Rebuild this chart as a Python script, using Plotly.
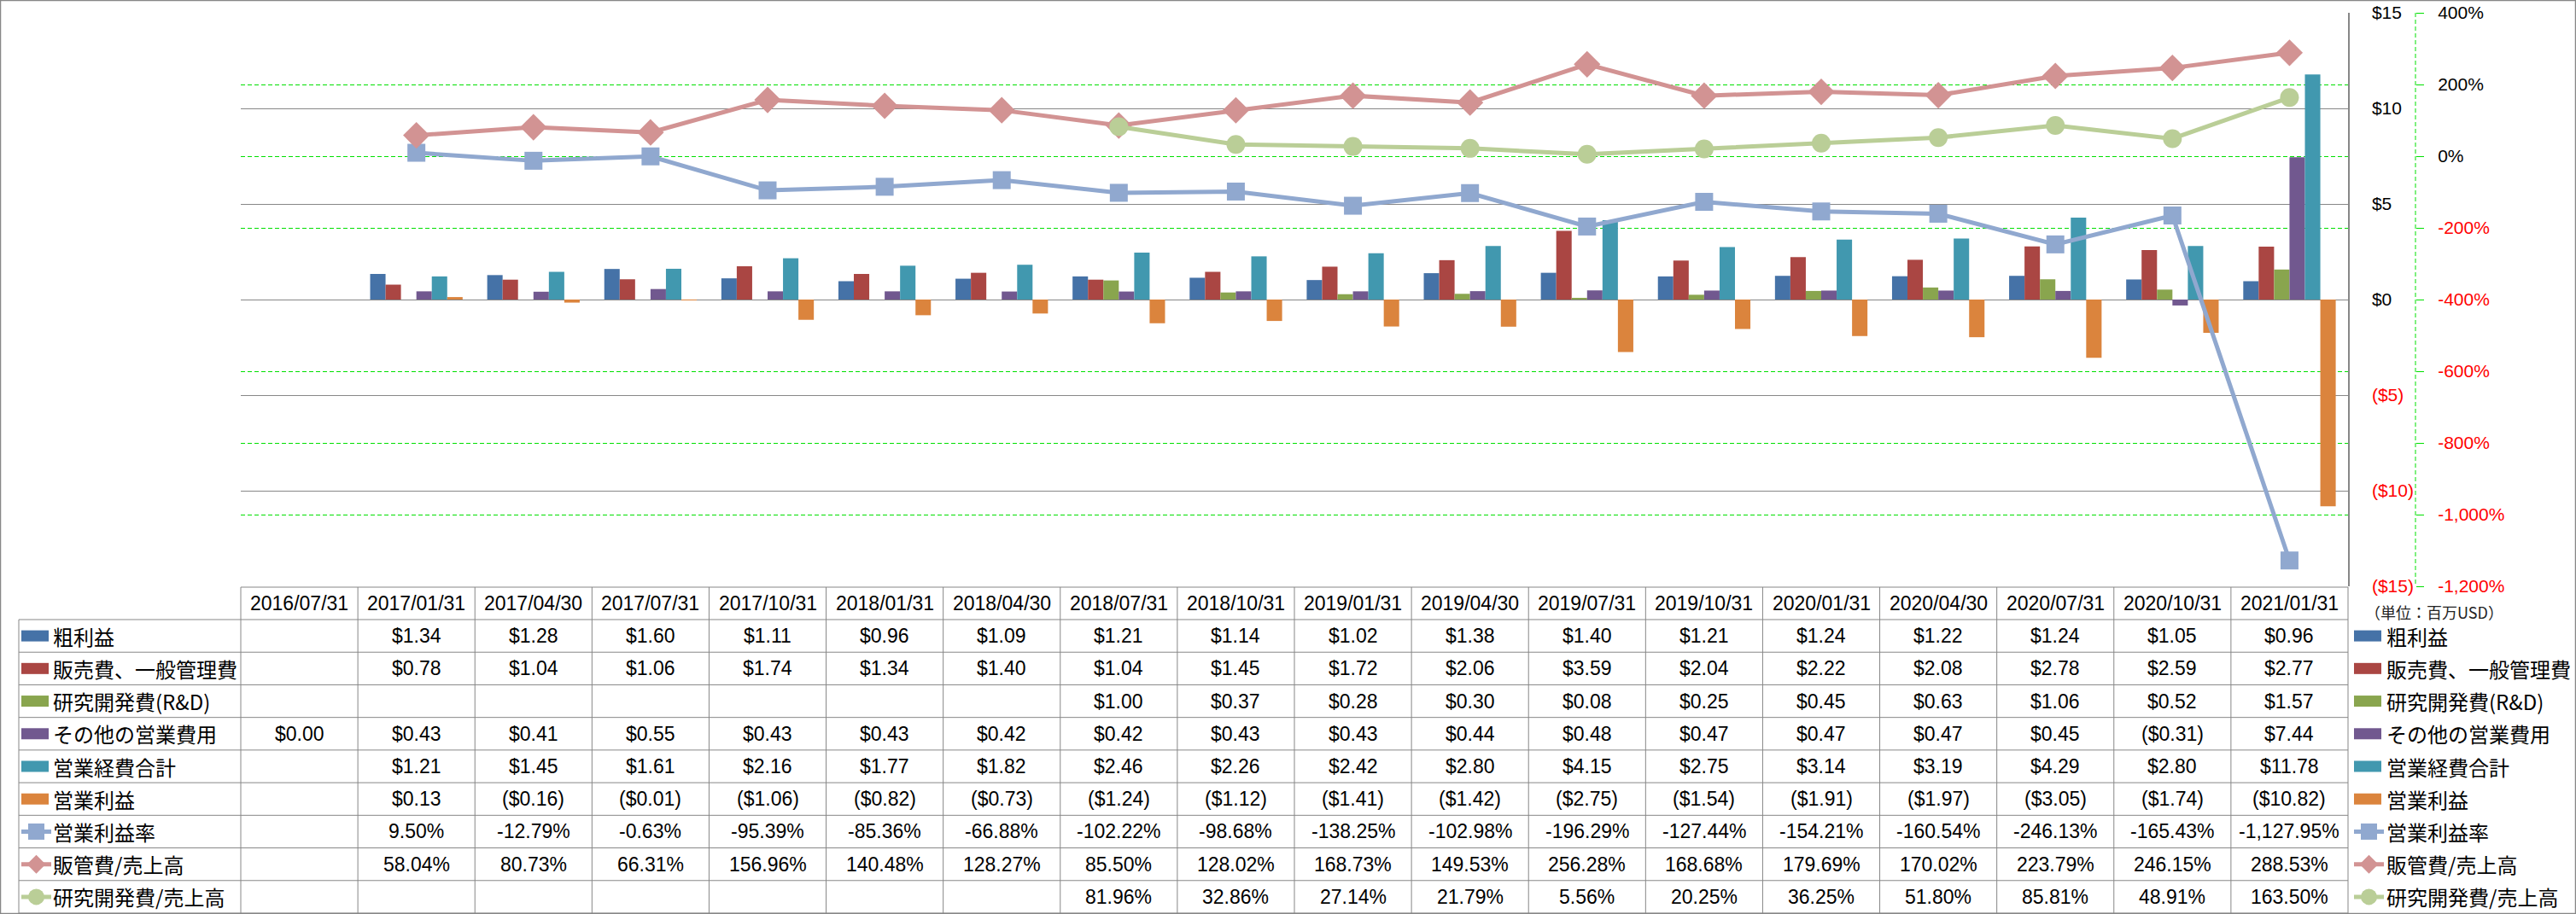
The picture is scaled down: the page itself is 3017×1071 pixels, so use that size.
import plotly.graph_objects as go

# ---------------- data ----------------
categories = ["2016/07/31", "2017/01/31", "2017/04/30", "2017/07/31", "2017/10/31",
              "2018/01/31", "2018/04/30", "2018/07/31", "2018/10/31", "2019/01/31",
              "2019/04/30", "2019/07/31", "2019/10/31", "2020/01/31", "2020/04/30",
              "2020/07/31", "2020/10/31", "2021/01/31"]

gross_profit = [None, 1.34, 1.28, 1.60, 1.11, 0.96, 1.09, 1.21, 1.14, 1.02, 1.38,
                1.40, 1.21, 1.24, 1.22, 1.24, 1.05, 0.96]
sga = [None, 0.78, 1.04, 1.06, 1.74, 1.34, 1.40, 1.04, 1.45, 1.72, 2.06,
       3.59, 2.04, 2.22, 2.08, 2.78, 2.59, 2.77]
rnd = [None, None, None, None, None, None, None, 1.00, 0.37, 0.28, 0.30,
       0.08, 0.25, 0.45, 0.63, 1.06, 0.52, 1.57]
other_opex = [0.00, 0.43, 0.41, 0.55, 0.43, 0.43, 0.42, 0.42, 0.43, 0.43, 0.44,
              0.48, 0.47, 0.47, 0.47, 0.45, -0.31, 7.44]
total_opex = [None, 1.21, 1.45, 1.61, 2.16, 1.77, 1.82, 2.46, 2.26, 2.42, 2.80,
              4.15, 2.75, 3.14, 3.19, 4.29, 2.80, 11.78]
op_income = [None, 0.13, -0.16, -0.01, -1.06, -0.82, -0.73, -1.24, -1.12, -1.41, -1.42,
             -2.75, -1.54, -1.91, -1.97, -3.05, -1.74, -10.82]
op_margin = [None, 9.50, -12.79, -0.63, -95.39, -85.36, -66.88, -102.22, -98.68, -138.25,
             -102.98, -196.29, -127.44, -154.21, -160.54, -246.13, -165.43, -1127.95]
sga_ratio = [None, 58.04, 80.73, 66.31, 156.96, 140.48, 128.27, 85.50, 128.02, 168.73,
             149.53, 256.28, 168.68, 179.69, 170.02, 223.79, 246.15, 288.53]
rnd_ratio = [None, None, None, None, None, None, None, 81.96, 32.86, 27.14, 21.79,
             5.56, 20.25, 36.25, 51.80, 85.81, 48.91, 163.50]

usd_ticks = [-15, -10, -5, 0, 5, 10, 15]
pct_ticks = [-1200, -1000, -800, -600, -400, -200, 0, 200, 400]

names = ["粗利益", "販売費、一般管理費", "研究開発費(R&D)", "その他の営業費用", "営業経費合計",
         "営業利益", "営業利益率", "販管費/売上高", "研究開発費/売上高"]
unit_label = "（単位：百万USD）"

# ---------------- styling ----------------
W, H = 3017, 1071
PLOT_L, PLOT_R, PLOT_T, PLOT_B = 282, 2750, 15, 687
TABLE_T, HEAD_B, TABLE_B = 688, 726, 1070
LEG_L = 22
ROW_H = (TABLE_B - HEAD_B) / 9
AX2_X = 2829

bar_colors = ["#4572A7", "#AA4643", "#89A54E", "#71588F", "#4198AF", "#DB843D"]
line_colors = ["#90A8CF", "#D29393", "#BACE97"]
symbols = ["square", "diamond", "circle"]
msizes = [21, 24, 22]
GRAY = "#878787"
GREEN = "#00E000"
RED = "#FF0000"
NUM_FONT = "Liberation Sans, Arial, sans-serif"
CJK_FONT = "Noto Sans CJK JP, sans-serif"
VAL_SIZE = 23


def px(x):
    return x / W


def py(y):
    return 1 - y / H


def fmt_usd(v):
    if v < 0:
        return "(${:,.2f})".format(abs(v))
    return "${:,.2f}".format(v)


def fmt_pct(v):
    return "{:,.2f}%".format(v)


def red_if_neg(v, s):
    return '<span style="color:%s">%s</span>' % (RED, s) if v < 0 else s


fig = go.Figure()

bar_series = [gross_profit, sga, rnd, other_opex, total_opex, op_income]
for i, vals in enumerate(bar_series):
    fig.add_trace(go.Bar(x=categories, y=vals, name=names[i],
                         marker=dict(color=bar_colors[i], line=dict(width=0)),
                         yaxis="y"))

line_series = [op_margin, sga_ratio, rnd_ratio]
for i, vals in enumerate(line_series):
    fig.add_trace(go.Scatter(x=categories, y=vals, name=names[6 + i], yaxis="y2",
                             mode="lines+markers",
                             line=dict(color=line_colors[i], width=5),
                             marker=dict(symbol=symbols[i], size=msizes[i],
                                         color=line_colors[i],
                                         line=dict(width=0))))

shapes = []
annotations = []

# outer border
shapes.append(dict(type="rect", xref="paper", yref="paper",
                   x0=px(0.5), x1=px(W - 0.5), y0=py(0.5), y1=py(H - 0.5),
                   line=dict(color=GRAY, width=1.5), fillcolor="rgba(0,0,0,0)", layer="above"))

# secondary axis dashed line
shapes.append(dict(type="line", xref="paper", yref="paper",
                   x0=px(AX2_X), x1=px(AX2_X), y0=py(PLOT_T), y1=py(PLOT_B),
                   line=dict(color=GREEN, width=1, dash="5px,3px")))

# table lines
col_w = (PLOT_R - PLOT_L) / len(categories)
shapes.append(dict(type="line", xref="paper", yref="paper",
                   x0=px(PLOT_L), x1=px(PLOT_R), y0=py(TABLE_T), y1=py(TABLE_T),
                   line=dict(color=GRAY, width=1)))
for i in range(10):
    y = HEAD_B + i * ROW_H
    shapes.append(dict(type="line", xref="paper", yref="paper",
                       x0=px(LEG_L), x1=px(PLOT_R), y0=py(y), y1=py(y),
                       line=dict(color=GRAY, width=1)))
for k in range(len(categories) + 1):
    x = PLOT_L + k * col_w
    shapes.append(dict(type="line", xref="paper", yref="paper",
                       x0=px(x), x1=px(x), y0=py(TABLE_T), y1=py(TABLE_B),
                       line=dict(color=GRAY, width=1)))
shapes.append(dict(type="line", xref="paper", yref="paper",
                   x0=px(LEG_L), x1=px(LEG_L), y0=py(HEAD_B), y1=py(TABLE_B),
                   line=dict(color=GRAY, width=1)))

# header dates
for c in categories:
    annotations.append(dict(x=c, xref="x", y=py((TABLE_T + HEAD_B) / 2), yref="paper",
                            text=c, showarrow=False, xanchor="center", yanchor="middle",
                            font=dict(family=NUM_FONT, size=VAL_SIZE, color="#000000")))

# table values
all_rows = bar_series + line_series
for r, vals in enumerate(all_rows):
    yc = HEAD_B + (r + 0.5) * ROW_H
    for c, v in zip(categories, vals):
        if v is None:
            continue
        txt = fmt_usd(v) if r < 6 else fmt_pct(v)
        annotations.append(dict(x=c, xref="x", y=py(yc), yref="paper", text=txt,
                                showarrow=False, xanchor="center", yanchor="middle",
                                font=dict(family=NUM_FONT, size=VAL_SIZE, color="#000000")))


def legend_key(x_left, yc, r, text_x):
    if r < 6:
        shapes.append(dict(type="rect", xref="paper", yref="paper",
                           x0=px(x_left), x1=px(x_left + 32), y0=py(yc - 6.5), y1=py(yc + 6.5),
                           fillcolor=bar_colors[r], line=dict(width=0)))
    else:
        li = r - 6
        col = line_colors[li]
        shapes.append(dict(type="line", xref="paper", yref="paper",
                           x0=px(x_left), x1=px(x_left + 35), y0=py(yc), y1=py(yc),
                           line=dict(color=col, width=5)))
        cx = x_left + 17.5
        if li == 0:
            shapes.append(dict(type="rect", xref="paper", yref="paper",
                               x0=px(cx - 9.5), x1=px(cx + 9.5), y0=py(yc - 9.5), y1=py(yc + 9.5),
                               fillcolor=col, line=dict(width=0)))
        elif li == 1:
            path = "M {} {} L {} {} L {} {} L {} {} Z".format(
                px(cx - 11), py(yc), px(cx), py(yc - 11), px(cx + 11), py(yc), px(cx), py(yc + 11))
            shapes.append(dict(type="path", xref="paper", yref="paper", path=path,
                               fillcolor=col, line=dict(width=0)))
        else:
            shapes.append(dict(type="circle", xref="paper", yref="paper",
                               x0=px(cx - 9.5), x1=px(cx + 9.5), y0=py(yc - 9.5), y1=py(yc + 9.5),
                               fillcolor=col, line=dict(width=0)))
    annotations.append(dict(x=px(text_x), xref="paper", y=py(yc), yref="paper",
                            text=names[r], showarrow=False, xanchor="left", yanchor="middle",
                            font=dict(family=CJK_FONT, size=24, color="#000000")))


for r in range(9):
    yc = HEAD_B + (r + 0.5) * ROW_H
    legend_key(25, yc, r, 60)
    legend_key(2757, yc, r, 2793)

annotations.append(dict(x=px(2768), xref="paper", y=py(717), yref="paper", text=unit_label,
                        showarrow=False, xanchor="left", yanchor="middle",
                        font=dict(family=CJK_FONT, size=18, color="#222222")))

fig.update_layout(
    width=W, height=H, autosize=False,
    margin=dict(l=0, r=0, t=0, b=0, pad=0, autoexpand=False),
    paper_bgcolor="white", plot_bgcolor="white",
    showlegend=False,
    barmode="group", bargap=0.21, bargroupgap=0,
    xaxis=dict(type="category", domain=[px(PLOT_L), px(PLOT_R)],
               range=[-0.5, len(categories) - 0.5], automargin=False,
               showticklabels=False, showgrid=False, zeroline=False, showline=False,
               ticks=""),
    yaxis=dict(domain=[py(PLOT_B), py(PLOT_T)], range=[-15, 15], side="right",
               automargin=False,
               tickvals=usd_ticks,
               ticktext=[red_if_neg(v, fmt_usd(v).replace(".00", "")) for v in usd_ticks],
               showgrid=True, gridcolor=GRAY, gridwidth=1,
               zeroline=True, zerolinecolor=GRAY, zerolinewidth=1,
               showline=True, linecolor=GRAY, linewidth=1.5, ticks="",
               ticklabelstandoff=22,
               tickfont=dict(family=NUM_FONT, size=21, color="#000000")),
    yaxis2=dict(overlaying="y", anchor="free", position=px(AX2_X), side="right",
                automargin=False,
                range=[-1200, 400], tickvals=pct_ticks,
                ticktext=[red_if_neg(v, "{:,}%".format(v)) for v in pct_ticks],
                showgrid=True, gridcolor=GREEN, gridwidth=1, griddash="5px,3px",
                zeroline=False, showline=False,
                ticks="outside", ticklen=9, tickcolor=GREEN, tickwidth=1,
                ticklabelstandoff=12,
                tickfont=dict(family=NUM_FONT, size=21, color="#000000")),
    shapes=shapes,
    annotations=annotations,
)

fig.write_html("out.html",
               config={"displayModeBar": False},
               post_script="document.body.style.margin='0';document.body.style.overflow='hidden';")
